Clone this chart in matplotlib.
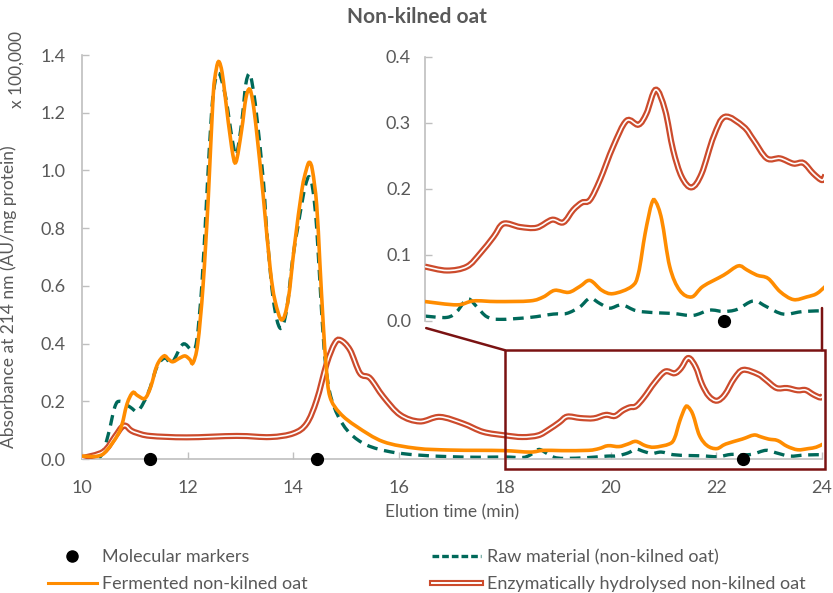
import matplotlib
matplotlib.use("Agg")
import matplotlib.pyplot as plt
import matplotlib.patheffects as pe
from matplotlib.patches import Rectangle, ConnectionPatch, PathPatch
from matplotlib.path import Path
from matplotlib.lines import Line2D
import numpy as np

plt.rcParams['font.family'] = ['Lato', 'DejaVu Sans']

# ---------------- data ----------------
raw_x = [10.0, 10.34, 10.49, 10.62, 10.72, 10.91, 11.06, 11.25, 11.42, 11.57, 11.70, 11.91, 12.08, 12.17,
         12.27, 12.36, 12.45, 12.52, 12.59, 12.66, 12.74, 12.83, 12.91, 12.97, 13.04, 13.10, 13.17, 13.23,
         13.30, 13.43, 13.50, 13.62, 13.75, 13.87, 13.99, 14.08, 14.16, 14.23, 14.30, 14.37, 14.44, 14.53,
         14.60, 14.69, 14.85, 15.07, 15.39, 15.83, 16.33, 16.96, 17.5, 18.0,
         18.33, 18.48, 18.64, 18.78, 18.93, 19.13, 19.58, 19.93, 20.13, 20.33, 20.48, 20.63, 20.78, 20.96,
         21.18, 21.48, 21.73, 22.03, 22.28, 22.49, 22.69, 22.94, 23.14, 23.39, 23.69, 24.02]
raw_y = [-0.003, 0.007, 0.08, 0.18, 0.20, 0.18, 0.167, 0.228, 0.32, 0.35, 0.333, 0.398, 0.378, 0.41,
         0.61, 0.909, 1.197, 1.31, 1.336, 1.30, 1.232, 1.12, 1.053, 1.10, 1.197, 1.30, 1.336, 1.29,
         1.197, 0.967, 0.78, 0.551, 0.453, 0.516, 0.70, 0.80, 0.886, 0.95, 0.978, 0.93, 0.80, 0.52,
         0.343, 0.228, 0.147, 0.089, 0.048, 0.025, 0.014, 0.008, 0.006, 0.007,
         0.005, 0.014, 0.033, 0.021, 0.006, 0.002, 0.005, 0.010, 0.011, 0.021, 0.034, 0.026, 0.019, 0.024,
         0.015, 0.012, 0.011, 0.008, 0.016, 0.014, 0.017, 0.030, 0.021, 0.010, 0.014, 0.015]

ferm_x = [10.0, 10.3, 10.47, 10.72, 10.85, 10.96, 11.05, 11.19, 11.30, 11.42, 11.55, 11.64, 11.72, 11.85,
          11.95, 12.04, 12.10, 12.19, 12.29, 12.39, 12.48, 12.54, 12.59, 12.65, 12.71, 12.83, 12.91, 13.02,
          13.10, 13.17, 13.23, 13.30, 13.43, 13.56, 13.65, 13.78, 13.90, 14.02, 14.16, 14.24, 14.30, 14.36,
          14.44, 14.50, 14.56, 14.62, 14.69, 14.88, 15.2, 15.7, 16.33, 16.96, 17.5, 18.0,
          18.48, 18.73, 19.08, 19.58, 19.78, 19.95, 20.16, 20.33, 20.48, 20.66, 20.83, 21.11, 21.21, 21.31,
          21.41, 21.47, 21.56, 21.68, 21.83, 22.01, 22.18, 22.49, 22.71, 22.84, 22.99, 23.16, 23.34, 23.54,
          23.74, 23.89, 24.02]
ferm_y = [0.01, 0.01, 0.03, 0.10, 0.19, 0.23, 0.22, 0.21, 0.25, 0.325, 0.357, 0.345, 0.337, 0.35,
          0.357, 0.345, 0.333, 0.40, 0.60, 0.909, 1.255, 1.35, 1.377, 1.34, 1.255, 1.082, 1.028, 1.14,
          1.25, 1.282, 1.24, 1.14, 0.909, 0.66, 0.55, 0.482, 0.551, 0.74, 0.932, 1.0, 1.028, 1.0,
          0.88, 0.68, 0.48, 0.32, 0.216, 0.159, 0.112, 0.06, 0.037, 0.031, 0.030, 0.029,
          0.024, 0.030, 0.029, 0.030, 0.036, 0.046, 0.043, 0.052, 0.061, 0.046, 0.041, 0.052, 0.072, 0.132,
          0.178, 0.180, 0.153, 0.082, 0.046, 0.036, 0.052, 0.069, 0.083, 0.077, 0.069, 0.064, 0.044, 0.032,
          0.036, 0.041, 0.052]

enz_x = [10.0, 10.4, 10.62, 10.75, 10.83, 10.92, 11.03, 11.29, 11.98, 12.93, 13.56, 14.0, 14.25, 14.44,
         14.63, 14.78, 14.89, 15.07, 15.26, 15.45, 15.7, 16.02, 16.39, 16.77, 17.21, 17.59, 18.0,
         18.33, 18.63, 18.83, 19.03, 19.18, 19.43, 19.68, 19.91, 20.08, 20.23, 20.36, 20.48, 20.63, 20.83,
         21.03, 21.21, 21.33, 21.47, 21.61, 21.73, 21.86, 22.01, 22.16, 22.34, 22.51, 22.79, 22.94, 23.14,
         23.34, 23.54, 23.69, 23.84, 23.97, 24.02]
enz_y = [0.003, 0.025, 0.077, 0.11, 0.115, 0.10, 0.091, 0.08, 0.075, 0.08, 0.076, 0.089, 0.123, 0.204,
         0.331, 0.40, 0.412, 0.378, 0.297, 0.28, 0.216, 0.153, 0.13, 0.146, 0.123, 0.094, 0.082,
         0.076, 0.082, 0.102, 0.127, 0.147, 0.142, 0.141, 0.153, 0.149, 0.168, 0.179, 0.183, 0.213, 0.264,
         0.303, 0.297, 0.314, 0.350, 0.319, 0.259, 0.218, 0.202, 0.223, 0.279, 0.309, 0.294, 0.274, 0.246,
         0.246, 0.238, 0.239, 0.223, 0.213, 0.221]

marker_x = [11.28, 14.45, 22.5]
marker_y = [0.0, 0.0, 0.0]

x_ticks = [10, 12, 14, 16, 18, 20, 22, 24]
y_ticks = [0.0, 0.2, 0.4, 0.6, 0.8, 1.0, 1.2, 1.4]
inset_y_ticks = [0.0, 0.1, 0.2, 0.3, 0.4]

labels = ["Molecular markers", "Raw material (non-kilned oat)",
          "Fermented non-kilned oat", "Enzymatically hydrolysed non-kilned oat"]

# ---------------- style ----------------
GREY = '#595959'
SPINE = '#BFBFBF'
ORANGE = '#FF8C00'
GREEN = '#00695A'
ENZ = '#CC4B2C'
BOX = '#7A1212'
DASH = (0, (3.2, 2.0))
ENZ_FX = [pe.Stroke(linewidth=4.4, foreground=ENZ), pe.Normal()]

W, H = 833, 593
fig = plt.figure(figsize=(W / 100, H / 100), dpi=100)


def frac(x0, y0, x1, y1):
    return [x0 / W, 1 - y1 / H, (x1 - x0) / W, (y1 - y0) / H]


ax = fig.add_axes(frac(82, 55, 822, 459))
axi = fig.add_axes(frac(425, 56.7, 824, 320.7))


def style_axes(a, yt, fmt):
    for s in ['top', 'right']:
        a.spines[s].set_visible(False)
    for s in ['left', 'bottom']:
        a.spines[s].set_color(SPINE)
        a.spines[s].set_linewidth(1.2)
    a.set_yticks(yt)
    a.set_yticklabels([fmt.format(v) for v in yt])
    a.tick_params(axis='both', direction='in', length=5, width=1, color=SPINE,
                  labelcolor=GREY, labelsize=13)


def smooth_curve(a, xs, ys, lo=None, **kw):
    """Excel-style smoothed line through the data points (Catmull-Rom as cubic Bezier)."""
    xs = np.asarray(xs, float)
    ys = np.asarray(ys, float)
    if lo is not None:
        m = xs >= lo
        xs, ys = xs[m], ys[m]
    p = np.column_stack([xs, ys])
    n = len(p)
    verts = [p[0]]
    codes = [Path.MOVETO]
    for i in range(n - 1):
        p0 = p[i - 1] if i > 0 else p[i]
        p1 = p[i]
        p2 = p[i + 1]
        p3 = p[i + 2] if i + 2 < n else p[i + 1]
        verts += [p1 + (p2 - p0) / 6.0, p2 - (p3 - p1) / 6.0, p2]
        codes += [Path.CURVE4] * 3
    patch = PathPatch(Path(verts, codes), fill=False, transform=a.transData, **kw)
    a.add_patch(patch)
    return patch


def draw_all(a, lo=None):
    smooth_curve(a, raw_x, raw_y, lo, edgecolor=GREEN, lw=2.4, linestyle=DASH, zorder=2)
    smooth_curve(a, enz_x, enz_y, lo, edgecolor='white', lw=1.2, path_effects=ENZ_FX, zorder=3)
    smooth_curve(a, ferm_x, ferm_y, lo, edgecolor=ORANGE, lw=2.6, zorder=4)


# main
style_axes(ax, y_ticks, '{:.1f}')
ax.set_xticks(x_ticks)
ax.set_xticklabels([str(v) for v in x_ticks])
ax.tick_params(axis='x', pad=15)
ax.tick_params(axis='y', pad=12)
ax.set_xlim(10, 24)
ax.set_ylim(0, 1.4)
draw_all(ax)
ax.plot(marker_x, marker_y, ls='none', marker='o', ms=8.5, color='black', clip_on=False, zorder=6)

ax.set_xlabel('Elution time (min)', color=GREY, fontsize=12.5, labelpad=6)
ax.set_ylabel('Absorbance at 214 nm (AU/mg protein)', color=GREY, fontsize=12.5)
ax.yaxis.set_label_coords(-0.088, 0.403)
ax.text(-0.088, 0.965, 'x 100,000', transform=ax.transAxes, rotation=90,
        ha='center', va='center', color=GREY, fontsize=12.5)

# inset box on main
rect = Rectangle((18, -0.034), 6.05, 0.411, fill=False, ec=BOX, lw=1.8, clip_on=False, zorder=7)
ax.add_patch(rect)

# inset
style_axes(axi, inset_y_ticks, '{:.1f}')
axi.spines['bottom'].set_visible(False)
axi.set_xticks([])
axi.tick_params(axis='y', pad=10)
axi.set_xlim(18, 24)
axi.set_ylim(0, 0.4)
axi.patch.set_alpha(0)
draw_all(axi, lo=18)
axi.plot([marker_x[2]], [marker_y[2]], ls='none', marker='o', ms=8.5, color='black',
         clip_on=False, zorder=6)

# connectors
c1 = ConnectionPatch(xyA=(0.003, -0.028), coordsA=axi.transAxes, xyB=(18, 0.377), coordsB=ax.transData,
                     color=BOX, lw=1.8, zorder=7)
c2 = ConnectionPatch(xyA=(0.995, 0.048), coordsA=axi.transAxes, xyB=(24.0, 0.377), coordsB=ax.transData,
                     color=BOX, lw=1.8, zorder=7)
fig.add_artist(c1)
fig.add_artist(c2)

# title
fig.text(0.5, 1 - 17 / H, 'Non-kilned oat', ha='center', va='center', fontsize=15,
         fontweight='bold', color=GREY)

# legend
h_marker = Line2D([], [], ls='none', marker='o', ms=8, color='black')
h_raw = Line2D([], [], color=GREEN, lw=2.4, ls=(0, (2.0, 0.9)))
h_ferm = Line2D([], [], color=ORANGE, lw=2.2)
h_enz = Line2D([], [], color='white', lw=1.4, path_effects=[pe.Stroke(linewidth=4.4, foreground=ENZ), pe.Normal()])
leg = fig.legend([h_marker, h_ferm, h_raw, h_enz], [labels[0], labels[2], labels[1], labels[3]],
                 ncol=2, loc='upper left', bbox_to_anchor=(39 / W, 1 - 540 / H), borderpad=0,
                 frameon=False, fontsize=13, handlelength=2.7, handletextpad=0.3,
                 columnspacing=6.9, labelspacing=0.6, labelcolor=GREY)

fig.savefig('out.png', dpi=100)
